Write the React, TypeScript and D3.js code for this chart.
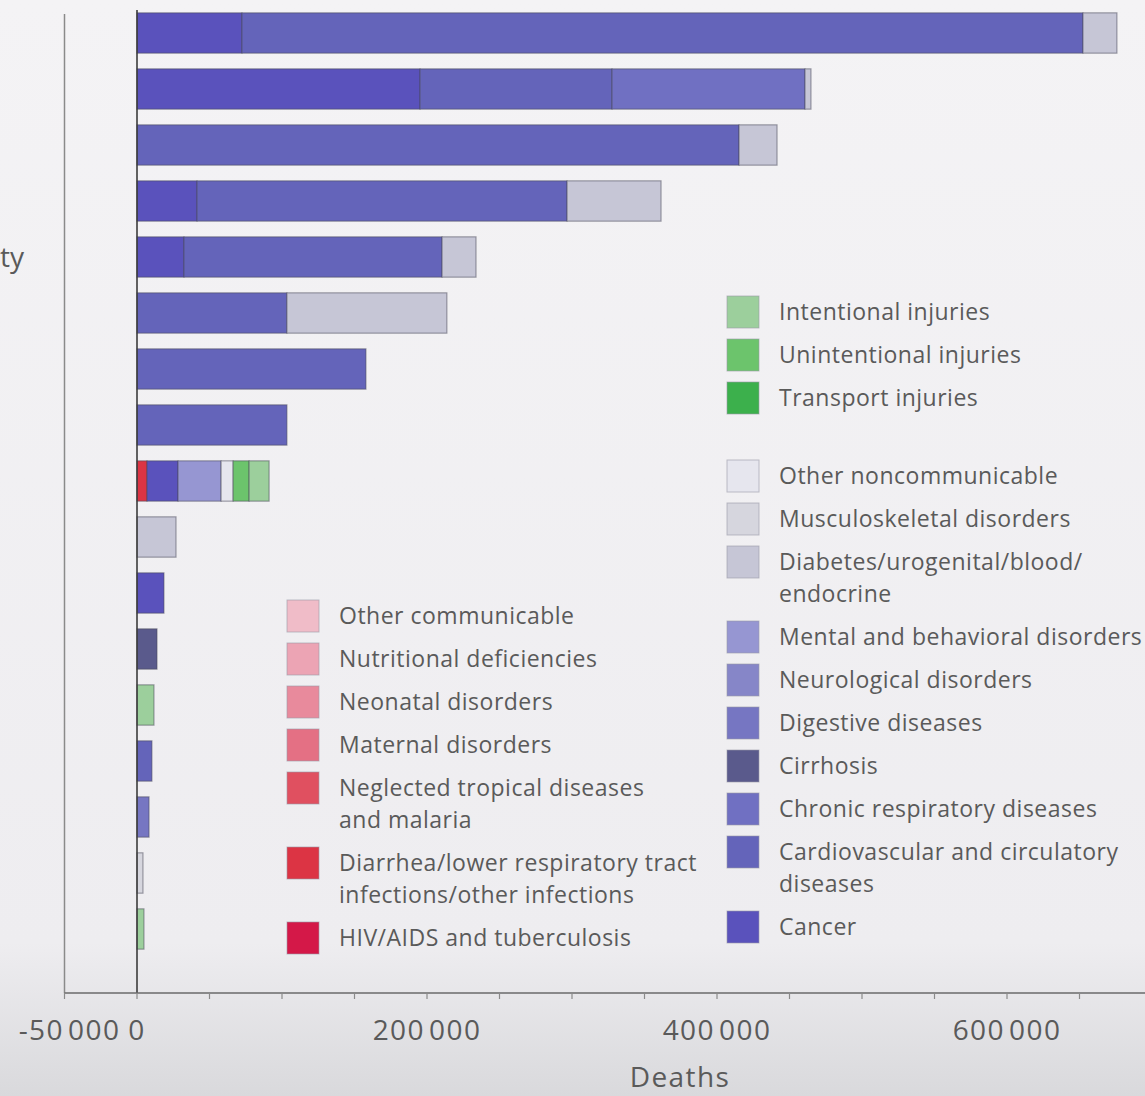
import React from "react";
import * as d3 from "d3";

// Risk factors, top to bottom
const riskFactors = [
  "Dietary risks", "Tobacco", "High systolic blood pressure", "High fasting plasma glucose",
  "Obesity", "Impaired kidney function", "High LDL cholesterol", "Low physical activity",
  "Alcohol use", "Occupational risks", "Air pollution", "Drug use", "Intimate partner violence",
  "Low temperature", "Other environmental risks", "Low bone mineral density", "Sexual abuse",
];

// Deaths attributable to each cause, one value per risk factor
const hiv =           [0, 0, 0, 0, 0, 0, 0, 0, 0, 0, 0, 0, 0, 0, 0, 0, 0];
const diarrhea =      [0, 0, 0, 0, 0, 0, 0, 0, 6900, 0, 0, 0, 0, 0, 0, 0, 0];
const tropical =      [0, 0, 0, 0, 0, 0, 0, 0, 0, 0, 0, 0, 0, 0, 0, 0, 0];
const maternal =      [0, 0, 0, 0, 0, 0, 0, 0, 0, 0, 0, 0, 0, 0, 0, 0, 0];
const neonatal =      [0, 0, 0, 0, 0, 0, 0, 0, 0, 0, 0, 0, 0, 0, 0, 0, 0];
const nutritional =   [0, 0, 0, 0, 0, 0, 0, 0, 0, 0, 0, 0, 0, 0, 0, 0, 0];
const otherComm =     [0, 0, 0, 0, 0, 0, 0, 0, 0, 0, 0, 0, 0, 0, 0, 0, 0];
const cancer =        [72400, 195200, 0, 41400, 32400, 0, 0, 0, 21400, 0, 18600, 0, 0, 0, 0, 0, 0];
const cardio =        [580000, 132400, 415200, 255200, 178000, 103400, 157900, 103400, 0, 0, 0, 0, 0, 10300, 0, 0, 0];
const chronicResp =   [0, 133100, 0, 0, 0, 0, 0, 0, 0, 0, 0, 0, 0, 0, 0, 0, 0];
const cirrhosis =     [0, 0, 0, 0, 0, 0, 0, 0, 0, 0, 0, 13800, 0, 0, 0, 0, 0];
const digestive =     [0, 0, 0, 0, 0, 0, 0, 0, 0, 0, 0, 0, 0, 0, 8300, 0, 0];
const neurological =  [0, 0, 0, 0, 0, 0, 0, 0, 0, 0, 0, 0, 0, 0, 0, 0, 0];
const mental =        [0, 0, 0, 0, 0, 0, 0, 0, 29700, 0, 0, 0, 0, 0, 0, 0, 0];
const diabetes =      [23400, 4100, 26200, 64800, 23400, 110300, 0, 0, 0, 26900, 0, 0, 0, 0, 0, 0, 0];
const musculo =       [0, 0, 0, 0, 0, 0, 0, 0, 0, 0, 0, 0, 0, 0, 0, 4100, 0];
const otherNcd =      [0, 0, 0, 0, 0, 0, 0, 0, 8300, 0, 0, 0, 0, 0, 0, 0, 0];
const transport =     [0, 0, 0, 0, 0, 0, 0, 0, 0, 0, 0, 0, 0, 0, 0, 0, 0];
const unintentional = [0, 0, 0, 0, 0, 0, 0, 0, 11000, 0, 0, 0, 0, 0, 0, 0, 0];
const intentional =   [0, 0, 0, 0, 0, 0, 0, 0, 13800, 0, 0, 0, 11700, 0, 0, 0, 4800];

// Stack order, left to right
const causeKeys = [
  "hiv", "diarrhea", "tropical", "maternal", "neonatal", "nutritional", "otherComm",
  "cancer", "cardio", "chronicResp", "cirrhosis", "digestive", "neurological", "mental",
  "diabetes", "musculo", "otherNcd", "transport", "unintentional", "intentional",
];
const causeValues: Record<string, number[]> = {
  hiv, diarrhea, tropical, maternal, neonatal, nutritional, otherComm,
  cancer, cardio, chronicResp, cirrhosis, digestive, neurological, mental,
  diabetes, musculo, otherNcd, transport, unintentional, intentional,
};
const causeColors = [
  "#d41848", "#dc3444", "#e05060", "#e47084", "#e88a9c", "#eca4b4", "#f0bcc8",
  "#5a52bc", "#6464ba", "#7070c2", "#5a5a8c", "#7676c2", "#8686c8", "#9696d2",
  "#c6c6d6", "#d6d6de", "#e6e6ee", "#3cb04c", "#6cc46c", "#9ccf9c",
];
const causeLabels: Record<string, string[]> = {
  hiv: ["HIV/AIDS and tuberculosis"],
  diarrhea: ["Diarrhea/lower respiratory tract", "infections/other infections"],
  tropical: ["Neglected tropical diseases", "and malaria"],
  maternal: ["Maternal disorders"],
  neonatal: ["Neonatal disorders"],
  nutritional: ["Nutritional deficiencies"],
  otherComm: ["Other communicable"],
  cancer: ["Cancer"],
  cardio: ["Cardiovascular and circulatory", "diseases"],
  chronicResp: ["Chronic respiratory diseases"],
  cirrhosis: ["Cirrhosis"],
  digestive: ["Digestive diseases"],
  neurological: ["Neurological disorders"],
  mental: ["Mental and behavioral disorders"],
  diabetes: ["Diabetes/urogenital/blood/", "endocrine"],
  musculo: ["Musculoskeletal disorders"],
  otherNcd: ["Other noncommunicable"],
  transport: ["Transport injuries"],
  unintentional: ["Unintentional injuries"],
  intentional: ["Intentional injuries"],
};

// Legend groups, top to bottom
const communicableLegend = ["otherComm", "nutritional", "neonatal", "maternal", "tropical", "diarrhea", "hiv"];
const injuryLegend = ["intentional", "unintentional", "transport"];
const noncommunicableLegend = ["otherNcd", "musculo", "diabetes", "mental", "neurological", "digestive", "cirrhosis", "chronicResp", "cardio", "cancer"];

const xTicks = d3.range(-50000, 700001, 50000);
const xLabelled = [-50000, 0, 200000, 400000, 600000];
const xTitle = "Deaths";
const strayLabel = "ty";

const W = 1145;
const H = 1096;
const FONT = "'Open Sans', 'Noto Sans', sans-serif";
const TEXT = "#5a5a5a";

export default function App() {
  const x = d3.scaleLinear().domain([-50000, 700000]).range([64.5, 1152]);
  const y = d3.scaleBand<string>().domain(riskFactors).range([5, 957]).paddingInner(0.28).paddingOuter(0.14);
  const color = d3.scaleOrdinal<string, string>().domain(causeKeys).range(causeColors);

  const rows = riskFactors.map((name, i) => {
    const r: any = { name };
    causeKeys.forEach((k) => (r[k] = causeValues[k][i]));
    return r;
  });
  const series = d3.stack<any>().keys(causeKeys).offset(d3.stackOffsetDiverging)(rows);

  const axisY = 993;
  // thousands grouped with a hair space
  const fmt = (v: number) => (v === 0 ? "0" : d3.format(",")(v).replace(/,/g, "\u200A"));

  // legend layout
  const rowStep = 43;
  const lineStep = 32;
  const legendItems: { key: string; x: number; y: number }[] = [];
  let ly = 616;
  communicableLegend.forEach((k) => {
    legendItems.push({ key: k, x: 287, y: ly });
    ly += rowStep + (causeLabels[k].length - 1) * lineStep;
  });
  ly = 312;
  injuryLegend.forEach((k) => {
    legendItems.push({ key: k, x: 727, y: ly });
    ly += rowStep;
  });
  ly += 35;
  noncommunicableLegend.forEach((k) => {
    legendItems.push({ key: k, x: 727, y: ly });
    ly += rowStep + (causeLabels[k].length - 1) * lineStep;
  });

  return (
    <svg
      width={W}
      height={H}
      style={{ position: "absolute", left: 0, top: 0, display: "block" }}
      fontFamily={FONT}
    >
      <defs>
        <linearGradient id="bg" x1="0" y1="0" x2="0" y2="1">
          <stop offset="0" stopColor="#f4f3f5" />
          <stop offset="0.86" stopColor="#eeedf0" />
          <stop offset="1" stopColor="#d9d9dc" />
        </linearGradient>
      </defs>
      <rect width={W} height={H} fill="url(#bg)" />

      {/* left frame line */}
      <line x1={x(-50000)} x2={x(-50000)} y1={14} y2={axisY} stroke="#8a8a8a" strokeWidth={1.5} />

      {series.map((s) => (
        <g key={s.key} fill={color(s.key)}>
          {s.map((d, i) =>
            d[1] - d[0] > 0 ? (
              <rect
                key={i}
                x={x(d[0])}
                y={y(riskFactors[i])}
                width={x(d[1]) - x(d[0])}
                height={y.bandwidth()}
                stroke="#4a4a5a"
                strokeOpacity={0.5}
                strokeWidth={1.2}
              />
            ) : null
          )}
        </g>
      ))}

      {/* zero line */}
      <line x1={x(0)} x2={x(0)} y1={10} y2={axisY} stroke="#3c3c3c" strokeWidth={1.6} />

      {/* x axis */}
      <line x1={x(-50000)} x2={W} y1={axisY} y2={axisY} stroke="#6a6a6a" strokeWidth={1.5} />
      {xTicks.map((t) => (
        <line key={t} x1={x(t)} x2={x(t)} y1={axisY} y2={axisY + 6} stroke="#8a8a8a" strokeWidth={1.2} />
      ))}
      {xLabelled.map((t) => (
        <text
          key={t}
          x={x(t) + (t === -50000 ? 5 : 0)}
          y={1040}
          textAnchor="middle"
          fontSize={28}
          letterSpacing={1.4}
          fill={TEXT}
        >
          {t < 0 ? "-" + fmt(-t) : fmt(t)}
        </text>
      ))}
      <text x={680} y={1087} textAnchor="middle" fontSize={28} letterSpacing={1.4} fill={TEXT}>
        {xTitle}
      </text>

      <text x={0} y={(y(riskFactors[4]) as number) + y.bandwidth() / 2 + 10} fontSize={28} fill={TEXT}>
        {strayLabel}
      </text>

      {/* legend */}
      {legendItems.map((it) => (
        <g key={it.key}>
          <rect x={it.x} y={it.y - 16} width={32} height={32} fill={color(it.key)} stroke="#9a9aa6" strokeOpacity={0.6} strokeWidth={1} />
          {causeLabels[it.key].map((line, li) => (
            <text key={li} x={it.x + 52} y={it.y + 8 + li * lineStep} fontSize={23} letterSpacing={0.5} fill={TEXT}>
              {line}
            </text>
          ))}
        </g>
      ))}
    </svg>
  );
}
